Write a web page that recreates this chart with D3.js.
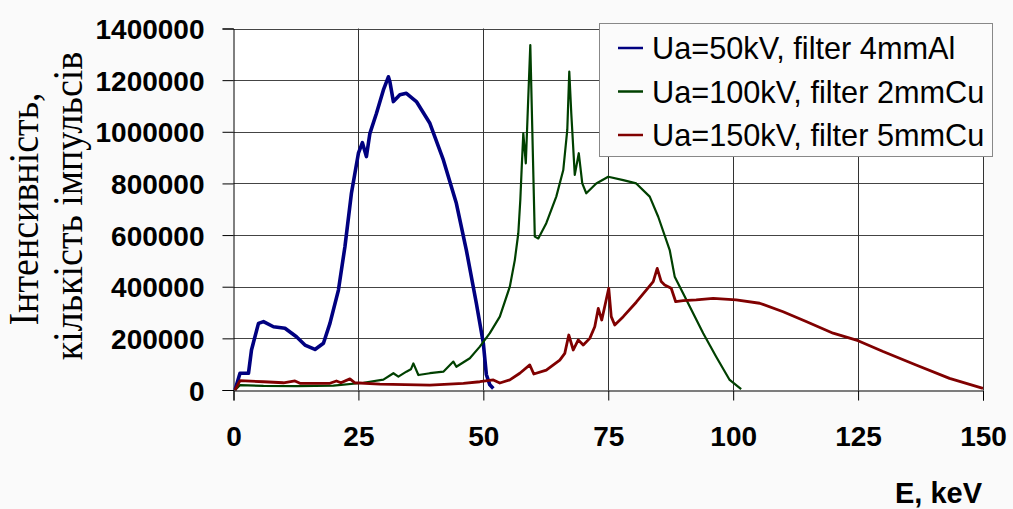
<!DOCTYPE html>
<html>
<head>
<meta charset="utf-8">
<script src="https://cdn.jsdelivr.net/npm/d3@7"></script>
<style>
body { margin: 0; background: #fafafa; }
.tick text { font-family: "Liberation Sans", Arial, sans-serif; font-weight: bold; font-size: 28px; fill: #000; }
.legend text { font-family: "Liberation Sans", Arial, sans-serif; font-size: 30.7px; fill: #000; }
</style>
</head>
<body>
<div id="chart"></div>
<script>
// spectra: [E keV, counts]
var points_50kv = [[0.3, 0], [1.3, 65000], [3, 65000], [3.6, 155000], [5, 258000], [6, 265000], [8, 245000],
		   [10.3, 239000], [12.6, 206000], [14.3, 174000], [16.3, 157000], [18, 181000], [19.3, 258000],
		   [21, 387000], [22.3, 555000], [23.6, 762000], [25, 917000], [25.8, 958000], [26.6, 904000],
		   [27.3, 994000], [28.6, 1071000], [30, 1162000], [31, 1213000], [31.3, 1194000], [32, 1117000],
		   [33.3, 1143000], [34.6, 1149000], [36.6, 1117000], [39.3, 1033000], [42, 891000], [44.6, 723000],
		   [46.6, 542000], [48.6, 336000], [50, 181000], [50.6, 60000], [51.3, 20000], [52, 6000]];

var points_100kv = [[0.3, 0], [1.3, 19000], [6, 16000], [12.6, 15000], [20, 17000], [26, 28000], [30, 40000],
		    [32, 65000], [33, 52000], [34.6, 71000], [35.5, 80000], [36, 103000], [37, 58000], [39.3, 65000],
		    [42, 71000], [44, 110000], [44.6, 90000], [47.3, 123000], [49.3, 168000], [51.3, 220000],
		    [53.3, 284000], [55.3, 400000], [56.3, 503000], [57, 607000], [57.4, 736000], [57.7, 870000],
		    [58, 994000], [58.5, 878000],
		    [59, 1136000], [59.4, 1336000], [59.8, 1007000], [60.3, 594000], [61, 587000], [62.6, 646000],
		    [64.6, 749000], [66, 852000], [66.8, 1007000], [67.2, 1233000], [67.6, 1072000], [68.3, 833000],
		    [69.1, 917000], [69.8, 800000], [70.6, 762000], [72.6, 800000], [75, 826000], [78, 813000],
		    [80.6, 800000], [83.3, 749000], [85, 671000], [87.3, 542000], [88.3, 439000], [90, 374000],
		    [94, 220000], [96.6, 129000], [99.3, 39000], [101.6, 3000]];

var points_150kv = [[0.3, 0], [1.3, 36000], [6, 32000], [10, 28000], [12.3, 35000], [13.3, 26000], [19.3, 26000],
		    [20.6, 35000], [21.5, 28000], [23.3, 43000], [24.3, 28000], [29.3, 23000], [39.3, 19000],
		    [46, 26000], [49.3, 32000], [52, 39000], [53.3, 27000], [55.3, 39000], [57.3, 65000], [59.3, 97000],
		    [60.1, 62000], [62.6, 77000], [65.3, 116000], [66.3, 142000], [67.1, 213000], [68, 155000],
		    [69, 194000], [70, 174000], [71.3, 200000], [72.3, 245000], [73, 316000], [73.7, 271000],
		    [75.1, 394000], [75.6, 284000], [76.3, 252000], [78, 284000], [80.6, 340000], [82.6, 387000],
		    [84, 420000], [84.8, 471000], [85.6, 420000], [86.3, 407000], [87.6, 394000], [88.5, 342000],
		    [90, 346000], [92.6, 349000], [96, 355000], [100.6, 349000], [105.3, 336000], [110, 303000],
		    [114.6, 265000], [120, 220000], [125, 191000], [130, 149000], [136.6, 97000], [143.3, 45000],
		    [150, 6500]];

var series_names = ["Ua=50kV, filter 4mmAl", "Ua=100kV, filter 2mmCu", "Ua=150kV, filter 5mmCu"];
var x_ticks = [0, 25, 50, 75, 100, 125, 150];
var y_ticks = [0, 200000, 400000, 600000, 800000, 1000000, 1200000, 1400000];

var colors = ["#000080", "#004000", "#800000"];
var widths = [3.6, 2.2, 2.8];

var svg = d3.select("#chart").append("svg")
    .attr("width", 1013)
    .attr("height", 509);

var x = d3.scaleLinear().domain([0, 150]).range([233.5, 983]);
var y = d3.scaleLinear().domain([0, 1400000]).range([390, 28.5]);

// plot area
svg.append("rect")
    .attr("x", 233.5).attr("y", 28.5)
    .attr("width", 983 - 233.5).attr("height", 390 - 28.5)
    .attr("fill", "#fff");

// grid
svg.append("g").selectAll("line")
    .data(y_ticks.slice(1))
    .enter().append("line")
    .attr("x1", 233.5).attr("x2", 983)
    .attr("y1", function(d) { return Math.round(y(d)) + 0.5; })
    .attr("y2", function(d) { return Math.round(y(d)) + 0.5; })
    .attr("stroke", "#444").attr("stroke-width", 1);

svg.append("g").selectAll("line")
    .data(x_ticks.slice(1))
    .enter().append("line")
    .attr("y1", 28.5).attr("y2", 390)
    .attr("x1", function(d) { return Math.round(x(d)) + 0.5; })
    .attr("x2", function(d) { return Math.round(x(d)) + 0.5; })
    .attr("stroke", "#333").attr("stroke-width", 1);

// axes
var yAxis = svg.append("g")
    .attr("transform", "translate(233.5,0)")
    .call(d3.axisLeft(y).tickValues(y_ticks).tickFormat(d3.format("d")).tickSize(11).tickPadding(18));

var xAxis = svg.append("g")
    .attr("transform", "translate(0,390.5)")
    .call(d3.axisBottom(x).tickValues(x_ticks).tickFormat(d3.format("d")).tickSize(10).tickPadding(8));

yAxis.selectAll("text").attr("dy", "0.36em");
xAxis.selectAll("text").attr("dy", "0.71em").attr("y", 36);
svg.selectAll(".domain").attr("stroke", "#000");
svg.selectAll(".tick line").attr("stroke", "#000");

// spectra
var line = d3.line()
    .x(function(d) { return x(d[0]); })
    .y(function(d) { return y(d[1]); });

[points_50kv, points_100kv, points_150kv].forEach(function(pts, i) {
    svg.append("path")
	.datum(pts)
	.attr("fill", "none")
	.attr("stroke", colors[i])
	.attr("stroke-width", widths[i])
	.attr("stroke-linejoin", "round")
	.attr("d", line);
});

// axis titles
svg.append("text")
    .attr("x", 982).attr("y", 503)
    .attr("text-anchor", "end")
    .style("font", "bold 29px 'Liberation Sans', Arial, sans-serif")
    .text("E, keV");

svg.append("text")
    .attr("transform", "translate(38,209) rotate(-90) scale(1,1.1)")
    .attr("text-anchor", "middle")
    .style("font", "38px 'Liberation Serif', 'Times New Roman', serif")
    .text("Інтенсивність,");

svg.append("text")
    .attr("transform", "translate(82,206) rotate(-90) scale(1,1.1)")
    .attr("text-anchor", "middle")
    .style("font", "38px 'Liberation Serif', 'Times New Roman', serif")
    .text("кількість імпульсів");

// legend
var legend = svg.append("g").attr("class", "legend");

legend.append("rect")
    .attr("x", 599.5).attr("y", 23.5)
    .attr("width", 393).attr("height", 133)
    .attr("fill", "#fbfbfb")
    .attr("stroke", "#888");

series_names.forEach(function(name, i) {
    var ly = 48 + i * 43.5;
    legend.append("line")
	.attr("x1", 618).attr("x2", 643)
	.attr("y1", ly).attr("y2", ly)
	.attr("stroke", colors[i]).attr("stroke-width", 2.5);
    legend.append("text")
	.attr("x", 652).attr("y", ly + 11)
	.text(name);
});
</script>
</body>
</html>
